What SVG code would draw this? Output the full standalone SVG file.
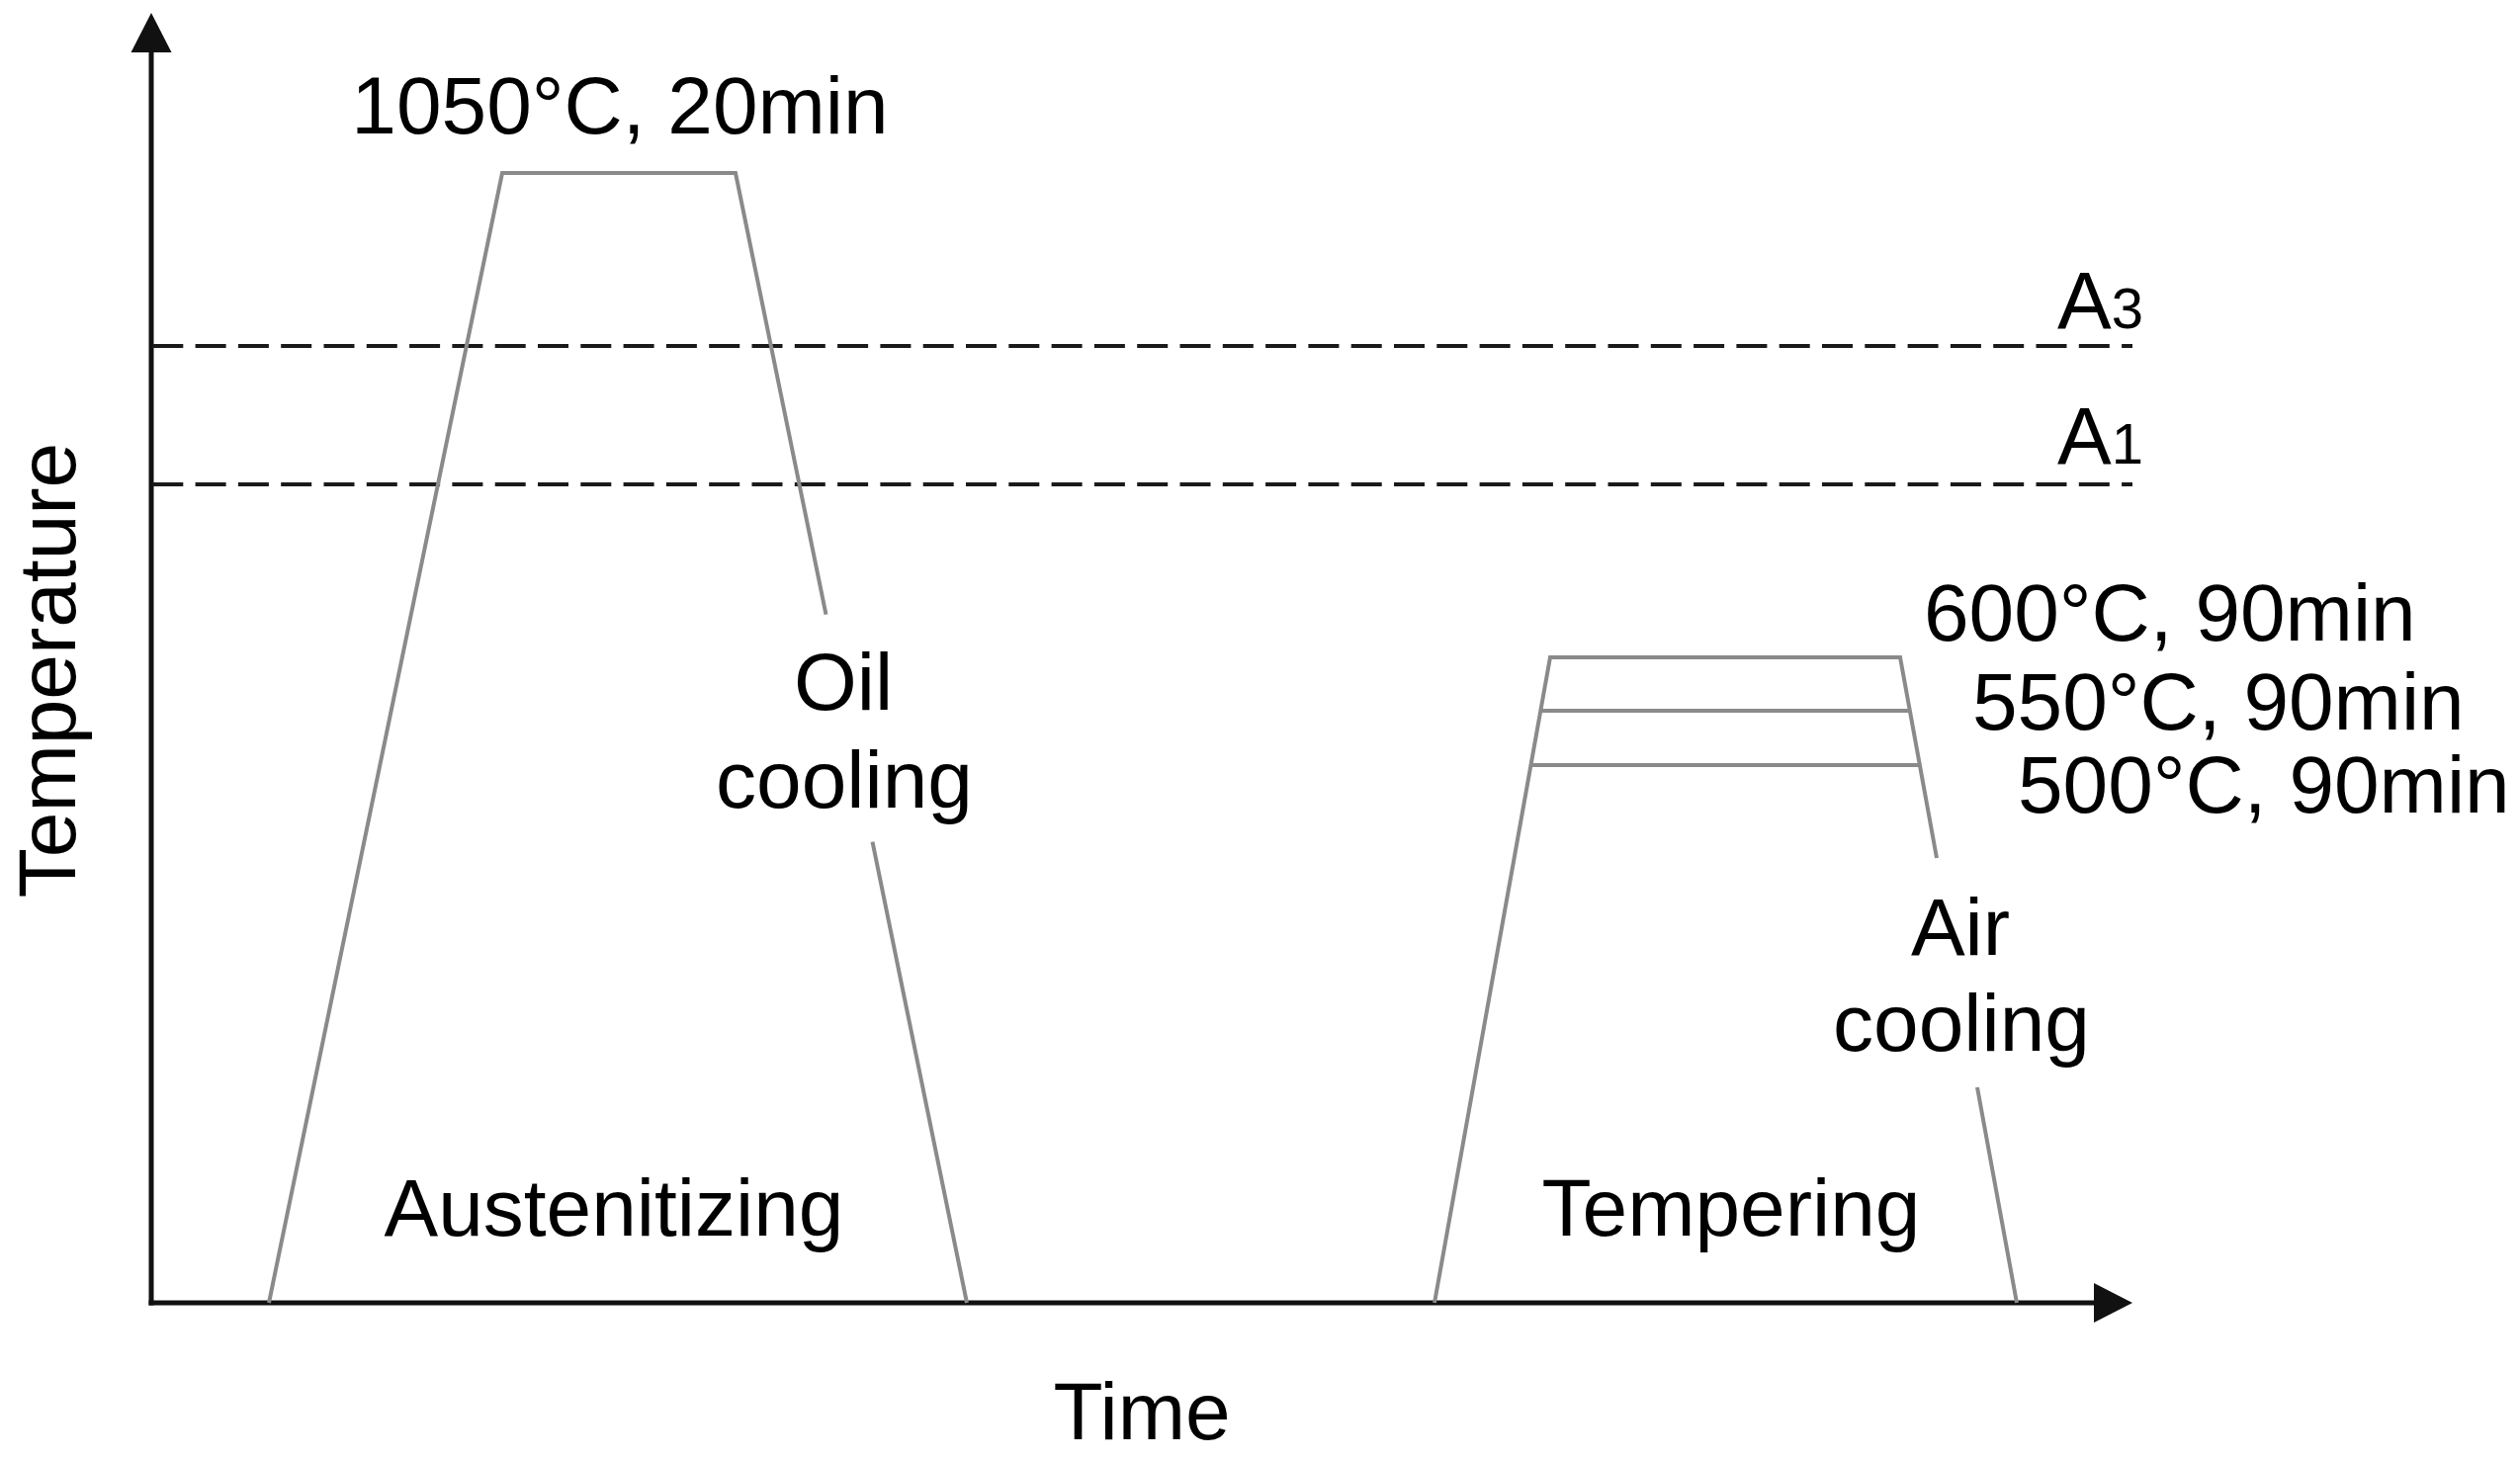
<svg xmlns="http://www.w3.org/2000/svg" width="2549" height="1477" viewBox="0 0 2549 1477">
  <style>
    .lbl { font-family: "Liberation Sans", Arial, sans-serif; font-size: 82px; fill: #000; }
    .mid { text-anchor: middle; }
    .curve { fill: none; stroke: #8a8a8a; stroke-width: 4; stroke-linejoin: miter; }
    .axis { fill: none; stroke: #111; stroke-width: 5; }
    .crit { fill: none; stroke: #1a1a1a; stroke-width: 4; stroke-dasharray: 31 12.3; stroke-dashoffset: -1.3; }
    .head { fill: #111; }
  </style>
  <rect width="2549" height="1477" fill="#fff"/>

  <g id="axes">
    <line class="axis" x1="153" y1="45" x2="153" y2="1320.5"/>
    <polygon class="head" points="153,13 132.5,53 173.5,53"/>
    <line class="axis" x1="150.5" y1="1318" x2="2125" y2="1318"/>
    <polygon class="head" points="2157,1318 2118,1298 2118,1338"/>
    <text class="lbl mid" font-size="80" transform="translate(76,678) rotate(-90)">Temperature</text>
    <text class="lbl mid" x="1155" y="1456">Time</text>
  </g>

  <g id="critical-lines">
    <line class="crit" x1="153" y1="350" x2="2157" y2="350"/>
    <line class="crit" x1="153" y1="490" x2="2157" y2="490"/>
    <text class="lbl" x="2081" y="332">A<tspan font-size="58">3</tspan></text>
    <text class="lbl" x="2081" y="469">A<tspan font-size="58">1</tspan></text>
  </g>

  <g id="austenitizing">
    <path class="curve" d="M272,1318 L508,175 L744,175 L835.5,621.7 M882.5,851.7 L978,1318"/>
    <text class="lbl mid" x="627" y="135">1050°C, 20min</text>
    <text class="lbl mid" x="621" y="1250">Austenitizing</text>
  </g>

  <g id="oil-cooling">
    <text class="lbl mid" x="853" y="718">Oil</text>
    <text class="lbl mid" x="854" y="817">cooling</text>
  </g>

  <g id="tempering">
    <path class="curve" d="M1451,1318 L1568,665 L1922,665 L1959,868 M2000,1100 L2040,1318"/>
    <line class="curve" x1="1558.3" y1="719" x2="1931.8" y2="719"/>
    <line class="curve" x1="1548.4" y1="774" x2="1941.7" y2="774"/>
    <text class="lbl" x="1946" y="648">600°C, 90min</text>
    <text class="lbl" x="1995" y="738">550°C, 90min</text>
    <text class="lbl" x="2041" y="822">500°C, 90min</text>
    <text class="lbl mid" x="1751" y="1250">Tempering</text>
  </g>

  <g id="air-cooling">
    <text class="lbl mid" x="1983" y="966">Air</text>
    <text class="lbl mid" x="1984" y="1063">cooling</text>
  </g>
</svg>
